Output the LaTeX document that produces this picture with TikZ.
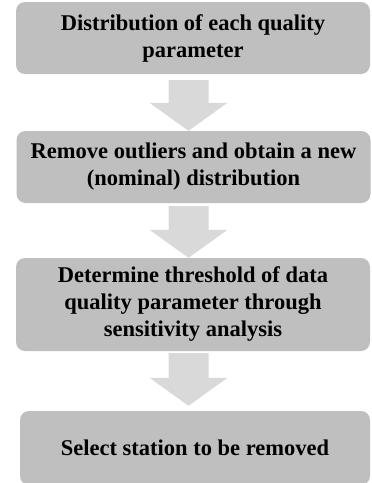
\documentclass[tikz,border=0pt]{standalone}
\usepackage{fontspec}
\setmainfont{Liberation Serif}
\usetikzlibrary{calc}
\definecolor{boxgray}{HTML}{BFBFBF}
\definecolor{arrgray}{HTML}{D9D9D9}
\begin{document}
\begin{tikzpicture}[x=1pt,y=-1pt,
  stepbox/.style={fill=boxgray, draw=none, rounded corners=9pt, minimum width=354pt, align=center,
    font=\fontsize{22.5}{27}\selectfont\bfseries, inner sep=0pt},
  blockarrow/.style={fill=arrgray, draw=none}]
\useasboundingbox (0,0) rectangle (372,483);
\node[stepbox, minimum height=72pt] (b1) at (193,38) {Distribution of each quality\\parameter};
\node[stepbox, minimum height=72pt] (b2) at (193.5,167) {Remove outliers and obtain a new\\(nominal) distribution};
\node[stepbox, minimum height=93pt] (b3) at (193,304.5) {Determine threshold of data\\quality parameter through\\sensitivity analysis};
\node[stepbox, minimum height=74pt, minimum width=350pt] (b4) at (195,448) {Select station to be removed};
\coordinate (s1) at ($(b1.south)+(-4.5,6)$);
\coordinate (t1) at (s1 |- b2.north);
\coordinate (s2) at ($(b2.south)+(-5,3)$);
\coordinate (t2) at (s2 |- b3.north);
\coordinate (s3) at ($(b3.south)+(-4.5,2)$);
\coordinate (t3) at ($(s3 |- b4.north)+(0,-5)$);
\foreach \s/\t in {s1/t1,s2/t2,s3/t3}{
  \fill[blockarrow] let \p1=(\s), \p2=(\t) in
    (\x1-20pt,\y1) -- (\x1+20pt,\y1) -- (\x1+20pt,\y2+28pt) -- (\x1+39pt,\y2+28pt)
    -- (\x2,\y2) -- (\x1-39pt,\y2+28pt) -- (\x1-20pt,\y2+28pt) -- cycle;
}
\end{tikzpicture}
\end{document}
